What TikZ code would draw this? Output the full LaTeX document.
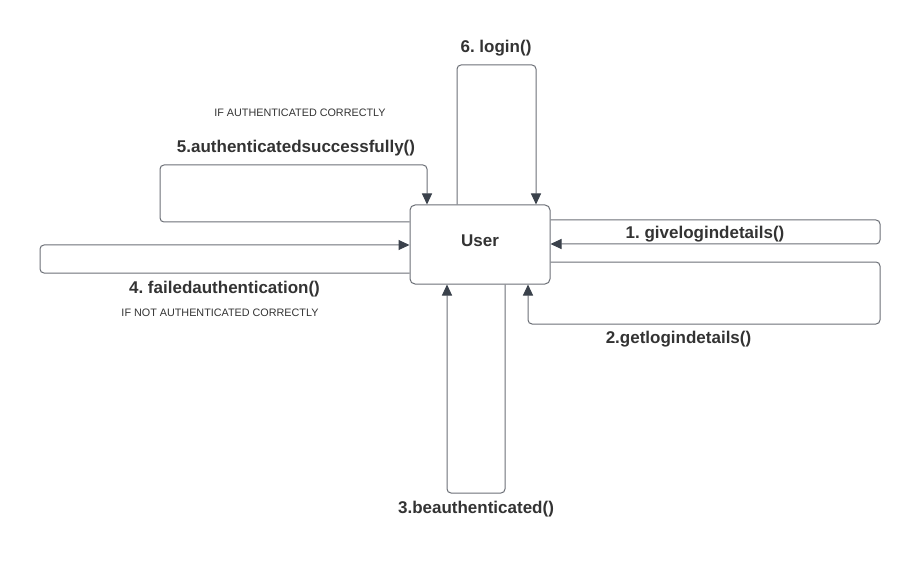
\documentclass[tikz,border=0pt]{standalone}
\usepackage{fontspec}
\setmainfont{Liberation Sans}
\usetikzlibrary{arrows.meta,positioning}
\definecolor{linegray}{HTML}{6B6F76}
\definecolor{tipgray}{HTML}{3A414B}
\definecolor{txtgray}{HTML}{333333}
\frenchspacing

\begin{document}
\begin{tikzpicture}[x=1pt,y=-1pt,
	msg/.style={draw=linegray, line width=1pt, rounded corners=4pt, -{Triangle[length=11pt,width=10pt,color=tipgray]}},
	call/.style={font=\bfseries\fontsize{17}{20}\selectfont, text=txtgray, inner sep=0pt, anchor=base},
	note/.style={font=\fontsize{10.8}{12}\selectfont, text=txtgray, inner sep=0pt, anchor=base}]
	\useasboundingbox (0,0) rectangle (920,561);
	\node[draw=linegray, line width=1pt, rounded corners=5pt, minimum width=140pt, minimum height=79pt, inner sep=0pt] (user) at (480,244.5) {};
	\node[call] (lu) at (480,247) {User};

	\coordinate (g1) at (880,220);
	\coordinate (g2) at (880,244);
	\coordinate (d1) at (880,262);
	\coordinate (d2) at (880,324);
	\coordinate (d3) at (528,324);
	\coordinate (b1) at (505,493);
	\coordinate (b2) at (447,493);
	\coordinate (f1) at (40,273);
	\coordinate (f2) at (40,245);
	\coordinate (s1) at (160,222);
	\coordinate (s2) at (160,165);
	\coordinate (s3) at (427,165);
	\coordinate (t1) at (457,65);
	\coordinate (t2) at (536,65);

	\draw[msg] (user.east |- g1) -- (g1) -- (g2) -- (user.east |- g2);
	\draw[msg] (user.east |- d1) -- (d1) -- (d2) -- (d3) -- (d3 |- user.south);
	\draw[msg] (b1 |- user.south) -- (b1) -- (b2) -- (b2 |- user.south);
	\draw[msg] (user.west |- f1) -- (f1) -- (f2) -- (user.west |- f2);
	\draw[msg] (user.west |- s1) -- (s1) -- (s2) -- (s3) -- (s3 |- user.north);
	\draw[msg] (t1 |- user.north) -- (t1) -- (t2) -- (t2 |- user.north);

	\node[call] (l1) at (705,239) {1. givelogindetails()};
	\node[call] (l2) at (678.5,343) {2.getlogindetails()};
	\node[call] (l3) at (476,513) {3.beauthenticated()};
	\node[call] (l4) at (224.5,293) {4. failedauthentication()};
	\node[call] (l5) at (296,153) {5.authenticatedsuccessfully()};
	\node[call] (l6) at (496,53) {6. login()};
	\node[note] (n5) at (300,117) {IF AUTHENTICATED CORRECTLY};
	\node[note] (n4) at (220,316) {IF NOT AUTHENTICATED CORRECTLY};
\end{tikzpicture}
\end{document}
